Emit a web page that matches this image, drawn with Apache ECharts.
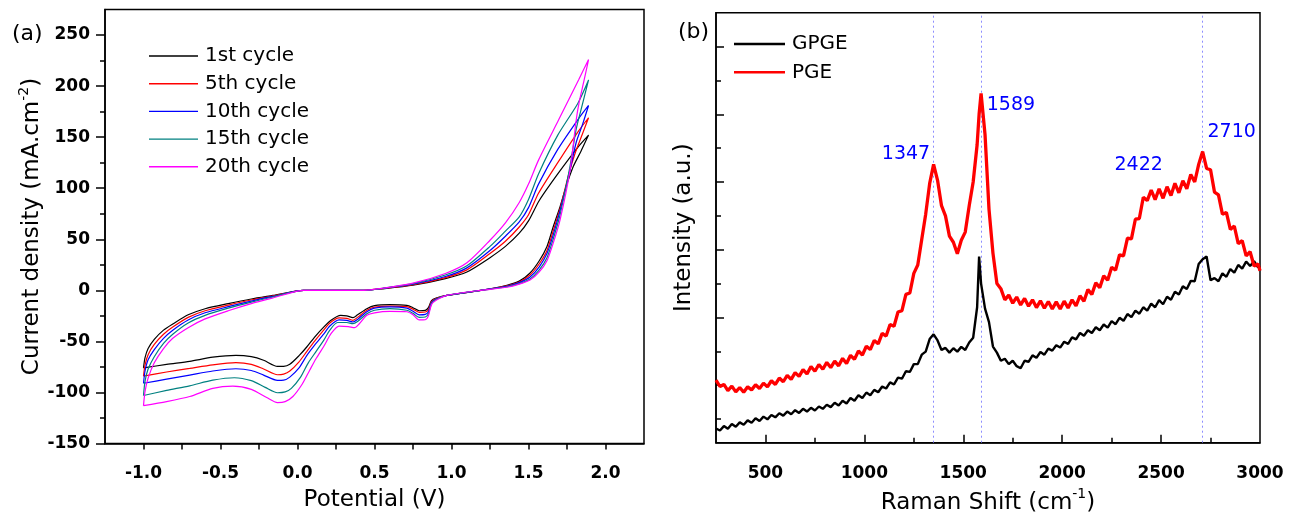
<!DOCTYPE html>
<html><head><meta charset="utf-8">
<script src="https://cdn.jsdelivr.net/npm/echarts@6/dist/echarts.min.js"></script>
<style>html,body{margin:0;padding:0;background:#fff}#c{width:1302px;height:521px}</style>
</head><body><div id="c"></div>
<script>
// ---------- Panel (a): cyclic voltammograms [potential V, current density mA/cm2] ----------
const cycleNames = ['1st cycle','5th cycle','10th cycle','15th cycle','20th cycle'];
const cycle1 = [[-1.0,-76],[-0.99,-66],[-0.97,-57],[-0.93,-48],[-0.87,-39],[-0.81,-33],[-0.71,-24],[-0.6,-18],[-0.45,-13],[-0.3,-8.5],[-0.16,-5],[0.04,0],[0.43,0],
 [0.55,1.5],[0.75,5],[0.96,11.5],[1.1,18],[1.25,32],[1.35,43],[1.44,56],[1.5,68],[1.57,88],[1.69,114],[1.82,140],[1.89,152],
 [1.84,136],[1.79,121],[1.745,102],[1.705,82],[1.66,62],[1.62,43],[1.57,29],[1.51,17],[1.44,9],[1.36,5],[1.19,0],[0.97,-5],[0.9,-7.5],[0.87,-10],[0.85,-17],[0.83,-19.6],[0.79,-20],[0.75,-17],[0.71,-14.7],[0.6,-14],[0.5,-15],[0.45,-18],[0.39,-24],[0.36,-26.8],[0.32,-25],[0.28,-24.5],[0.22,-29],[0.17,-36],[0.11,-46],[0.06,-55.5],[0.01,-64],[-0.05,-72.5],[-0.09,-74.5],[-0.13,-74.5],[-0.22,-68.5],[-0.3,-65],[-0.4,-63.7],[-0.55,-65.5],[-0.7,-69.5],[-0.85,-72.5],[-1.0,-76]];
const cycle5 = [[-1.0,-84],[-0.99,-73],[-0.97,-63],[-0.93,-53],[-0.87,-43],[-0.81,-36],[-0.71,-26.5],[-0.6,-20],[-0.45,-14.5],[-0.3,-9.5],[-0.16,-5.5],[0.04,0],[0.43,0],
 [0.55,1.7],[0.75,5.5],[0.96,12.5],[1.1,20],[1.25,36],[1.35,48],[1.44,62],[1.5,74],[1.565,95],[1.69,125],[1.82,155],[1.89,169],
 [1.85,153],[1.8,133],[1.76,113],[1.705,80],[1.66,58],[1.62,39],[1.57,26],[1.51,15],[1.44,8],[1.36,4.5],[1.19,0],[0.97,-5],[0.9,-8],[0.87,-11],[0.85,-19],[0.83,-21.2],[0.79,-21.5],[0.75,-18.5],[0.71,-16],[0.6,-15.4],[0.5,-16.5],[0.45,-19.5],[0.39,-26.5],[0.36,-29.4],[0.32,-27.5],[0.27,-27],[0.21,-32],[0.17,-39],[0.11,-50],[0.06,-60],[0.01,-70],[-0.05,-79],[-0.09,-82],[-0.13,-82.7],[-0.22,-77],[-0.3,-72.5],[-0.4,-70.9],[-0.55,-73],[-0.7,-76.5],[-0.85,-80],[-1.0,-84]];
const cycle10 = [[-1.0,-91],[-0.99,-79],[-0.97,-68],[-0.93,-58],[-0.87,-47],[-0.81,-39],[-0.71,-29],[-0.6,-22],[-0.45,-16],[-0.3,-10.5],[-0.16,-6],[0.04,0],[0.43,0],
 [0.55,1.8],[0.75,6],[0.96,13.5],[1.1,22],[1.25,39],[1.35,53],[1.44,67],[1.5,81],[1.565,104],[1.69,138],[1.82,167],[1.89,181],
 [1.85,162],[1.81,145],[1.77,118],[1.705,78],[1.66,54],[1.62,36],[1.57,23],[1.51,13],[1.44,7.5],[1.36,4],[1.19,0],[0.97,-5],[0.9,-8.5],[0.87,-12],[0.85,-21],[0.83,-23.5],[0.79,-24],[0.75,-20.5],[0.71,-17.5],[0.6,-16.3],[0.5,-17.5],[0.45,-21],[0.39,-28.5],[0.36,-31],[0.32,-29.5],[0.27,-29],[0.21,-35],[0.17,-43],[0.11,-54],[0.06,-64],[0.01,-76],[-0.05,-85],[-0.09,-88],[-0.13,-88.2],[-0.22,-83],[-0.3,-78.5],[-0.4,-76.8],[-0.55,-79],[-0.7,-83],[-0.85,-87],[-1.0,-91]];
const cycle15 = [[-1.0,-103],[-0.99,-89],[-0.97,-77],[-0.93,-65],[-0.87,-52],[-0.81,-43],[-0.71,-32],[-0.6,-24.5],[-0.45,-17.5],[-0.3,-11.5],[-0.16,-6.5],[0.04,0],[0.43,0],
 [0.55,1.9],[0.75,6.5],[0.96,15],[1.1,24],[1.25,43],[1.35,58],[1.44,72],[1.5,89],[1.565,114],[1.69,152],[1.82,183],[1.89,206],
 [1.85,182],[1.81,158],[1.77,122],[1.705,74],[1.66,50],[1.62,32],[1.57,20],[1.51,11],[1.44,6.5],[1.36,3.5],[1.19,0],[0.97,-5],[0.9,-9],[0.87,-13],[0.85,-23],[0.83,-26.1],[0.79,-26.5],[0.75,-22.5],[0.71,-19.5],[0.6,-18],[0.5,-19.5],[0.45,-23],[0.39,-30.5],[0.36,-32.7],[0.32,-31.5],[0.26,-31.5],[0.21,-39],[0.17,-49],[0.12,-60],[0.07,-71],[0.02,-85],[-0.04,-96],[-0.08,-99.5],[-0.13,-100.3],[-0.21,-95],[-0.3,-88.5],[-0.41,-85.6],[-0.55,-88],[-0.7,-93.5],[-0.85,-98],[-1.0,-103]];
const cycle20 = [[-1.0,-113],[-0.99,-99],[-0.97,-86],[-0.93,-71],[-0.87,-57],[-0.81,-47],[-0.71,-36.6],[-0.6,-28],[-0.45,-20],[-0.3,-13],[-0.16,-7.5],[0.04,0],[0.43,0],
 [0.55,2],[0.75,7],[0.96,16.5],[1.1,27],[1.25,49],[1.35,66],[1.44,86],[1.5,104],[1.565,127.5],[1.695,166.7],[1.825,206],[1.89,226],
 [1.86,205],[1.83,185],[1.81,167],[1.77,118],[1.705,69],[1.66,46],[1.62,29],[1.57,18],[1.51,10],[1.44,6],[1.36,3],[1.19,0],[0.97,-5],[0.9,-9.8],[0.87,-14],[0.85,-25],[0.83,-28.8],[0.79,-29],[0.75,-24],[0.71,-21],[0.6,-20.6],[0.5,-22],[0.45,-24.5],[0.4,-33],[0.37,-36.6],[0.33,-35.5],[0.27,-35],[0.22,-42],[0.17,-55],[0.12,-67],[0.08,-78],[0.03,-92],[-0.03,-104],[-0.08,-109],[-0.13,-110],[-0.2,-105],[-0.3,-97],[-0.42,-93.8],[-0.55,-96],[-0.7,-104],[-0.85,-109],[-1.0,-113]];
const cycleData = [cycle1, cycle5, cycle10, cycle15, cycle20];
const cycleColors = ['#000000','#ff0000','#0000ff','#008080','#ff00ff'];
const potentialLabels = [-1.0,-0.5,0.0,0.5,1.0,1.5,2.0];
const potentialTicks = [-1.0,-0.75,-0.5,-0.25,0,0.25,0.5,0.75,1.0,1.25,1.5,1.75,2.0];
const currentLabels = [-150,-100,-50,0,50,100,150,200,250];
const currentMinorTicks = [-125,-75,-25,25,75,125,175,225];

// ---------- Panel (b): Raman spectra ----------
const ramanShift = [250,270,290,310,330,350,370,390,410,430,450,470,490,510,530,550,570,590,610,630,650,670,690,710,730,750,770,790,810,830,850,870,890,910,930,950,970,990,1010,1030,1050,1070,1090,1110,1130,1150,1170,1190,1210,1230,1250,1270,1290,1310,1330,1350,1370,1390,1410,1430,1450,1470,1490,1510,1530,1550,1570,1580,1590,1610,1630,1650,1670,1690,1710,1730,1750,1770,1790,1810,1830,1850,1870,1890,1910,1930,1950,1970,1990,2010,2030,2050,2070,2090,2110,2130,2150,2170,2190,2210,2230,2250,2270,2290,2310,2330,2350,2370,2390,2410,2430,2450,2470,2490,2510,2530,2550,2570,2590,2610,2630,2650,2670,2690,2710,2730,2750,2770,2790,2810,2830,2850,2870,2890,2910,2930,2950,2970,2990,3000];
const pgeIntensity = [2.15,1.96,2.02,1.84,1.97,1.80,1.93,1.79,1.95,1.86,2.01,1.90,2.06,1.95,2.13,2.02,2.21,2.10,2.29,2.17,2.37,2.26,2.46,2.33,2.55,2.41,2.61,2.47,2.67,2.52,2.71,2.57,2.79,2.64,2.88,2.76,3.01,2.89,3.15,3.05,3.32,3.22,3.53,3.45,3.79,3.74,4.16,4.20,4.68,4.72,5.30,5.55,6.30,7.05,7.95,8.52,8.05,7.30,7.00,6.40,6.22,5.88,6.28,6.52,7.30,8.00,9.10,10.0,10.62,9.40,7.20,5.90,5.00,4.85,4.52,4.66,4.42,4.60,4.37,4.56,4.33,4.52,4.29,4.49,4.27,4.47,4.25,4.46,4.25,4.48,4.28,4.52,4.34,4.64,4.48,4.82,4.68,5.02,4.88,5.23,5.10,5.48,5.40,5.85,5.82,6.34,6.32,6.90,6.92,7.55,7.45,7.76,7.48,7.80,7.52,7.86,7.60,7.96,7.68,8.04,7.80,8.22,8.00,8.52,8.90,8.40,8.36,7.70,7.62,7.05,7.10,6.60,6.70,6.18,6.27,5.82,5.94,5.52,5.58,5.38];
const gpgeIntensity = [0.72,0.66,0.79,0.71,0.85,0.77,0.90,0.83,0.96,0.89,1.02,0.94,1.07,0.99,1.12,1.05,1.17,1.10,1.22,1.14,1.26,1.18,1.30,1.22,1.33,1.25,1.37,1.30,1.42,1.35,1.48,1.40,1.54,1.46,1.62,1.54,1.70,1.62,1.78,1.70,1.86,1.79,1.96,1.90,2.08,2.02,2.22,2.19,2.41,2.39,2.62,2.62,2.90,2.99,3.36,3.50,3.32,3.04,3.10,2.96,3.09,2.99,3.13,3.04,3.26,3.40,4.30,5.80,5.00,4.26,3.86,3.14,2.96,2.72,2.78,2.62,2.72,2.56,2.50,2.72,2.69,2.88,2.81,2.98,2.90,3.08,3.02,3.18,3.11,3.28,3.22,3.41,3.35,3.54,3.46,3.62,3.54,3.71,3.62,3.79,3.70,3.89,3.80,3.99,3.90,4.10,4.01,4.20,4.11,4.30,4.20,4.41,4.30,4.51,4.39,4.61,4.52,4.76,4.68,4.92,4.84,5.08,5.07,5.58,5.72,5.80,5.10,5.16,5.07,5.30,5.20,5.43,5.32,5.55,5.44,5.65,5.52,5.66,5.48,5.52];
const peakLines = [1347, 1589, 2710];
const peakNames = ['1347','1589','2422','2710'];
const peakShift = [1347, 1589, 2422, 2710];
const peakIntensity = [8.52, 10.62, 7.55, 8.90];
const ramanLabels = [500,1000,1500,2000,2500,3000];
const ramanMajorTicks = [500,1000,1500,2000,2500];
const ramanMinorTicks = [750,1250,1750,2250,2750];
const intensityMajorTicks = [2,4,6,8,10,12];
const intensityMinorTicks = [1,3,5,7,9,11];

// ---------- build ----------
const FONT = 'DejaVu Sans';
const peakLabelOffsets = [[-27,-10],[30,12],[-7,-32],[29,-19]];
const pair = (xs, ys) => xs.map((x, i) => [x, ys[i]]);
const axisLine = {show:true, onZero:false, lineStyle:{color:'#000', width:1.5}};
const hiddenLine = {show:false, onZero:false};
const tickLabel = {fontFamily:FONT, fontWeight:'bold', fontSize:17, color:'#000'};
const nameStyle = {fontFamily:FONT, fontSize:23, color:'#000',
  rich:{sup:{fontFamily:FONT, fontSize:14, color:'#000', padding:[0,0,16,0]}}};

const series = cycleData.map((d, i) => ({
  type:'line', name:cycleNames[i], xAxisIndex:0, yAxisIndex:0, data:d,
  symbol:'none', smooth:0.25, lineStyle:{color:cycleColors[i], width:1.2}, itemStyle:{color:cycleColors[i]}
}));
series.push({
  type:'line', name:'GPGE', xAxisIndex:1, yAxisIndex:2, data:pair(ramanShift, gpgeIntensity),
  symbol:'none', lineStyle:{color:'#000', width:2.4}, itemStyle:{color:'#000'},
  markLine:{silent:true, symbol:['none','none'], label:{show:false}, z:1,
    lineStyle:{color:'#8080ff', type:[2,3], width:1, opacity:0.9}, data: peakLines.map(v => ({xAxis:v}))}
});
series.push({
  type:'line', name:'PGE', xAxisIndex:1, yAxisIndex:2, data:pair(ramanShift, pgeIntensity),
  symbol:'none', lineStyle:{color:'#ff0000', width:3.3}, itemStyle:{color:'#ff0000'},
  markPoint:{silent:true, symbol:'circle', symbolSize:0,
    data: peakNames.map((n, i) => ({name:n, coord:[peakShift[i], peakIntensity[i]],
      label:{show:true, position:'inside', offset:peakLabelOffsets[i], formatter:n,
        fontFamily:FONT, fontSize:19, color:'#0000ff'}}))}
});

const option = {
  animation:false, backgroundColor:'#fff',
  grid:[
    {left:105, top:9.5, width:539, height:434, show:true, borderColor:'#000', borderWidth:1.5},
    {left:716, top:12.7, width:544, height:430, show:true, borderColor:'#000', borderWidth:1.5}
  ],
  legend:[
    {data:cycleNames, orient:'vertical', left:144, top:41, icon:'rect', itemWidth:49, itemHeight:1.4, itemGap:7.7,
      textStyle:{fontFamily:FONT, fontSize:20, color:'#000', lineHeight:20, padding:[0,0,0,2]}},
    {data:['GPGE','PGE'], orient:'vertical', left:729, top:29, icon:'rect', itemWidth:51, itemHeight:2.5, itemGap:8.3,
      textStyle:{fontFamily:FONT, fontSize:20, color:'#000', lineHeight:20, padding:[0,0,0,2]}}
  ],
  xAxis:[
    {gridIndex:0, type:'value', position:'bottom', min:-1.25, max:2.25,
      name:'Potential (V)', nameLocation:'middle', nameGap:45, nameTextStyle:nameStyle,
      axisLine:axisLine, splitLine:{show:false},
      axisTick:{show:true, inside:false, length:6, customValues:potentialTicks, lineStyle:{color:'#000', width:1.5}},
      axisLabel:Object.assign({margin:22, customValues:potentialLabels, formatter:v => v.toFixed(1)}, tickLabel)},
    {gridIndex:1, type:'value', position:'bottom', min:250, max:3000,
      name:'Raman Shift (cm{sup|-1})', nameLocation:'middle', nameGap:45, nameTextStyle:nameStyle,
      axisLine:axisLine, splitLine:{show:false},
      axisTick:{show:true, inside:true, length:8, customValues:ramanMajorTicks, lineStyle:{color:'#000', width:1.5}},
      axisLabel:Object.assign({margin:22, customValues:ramanLabels, formatter:v => String(v)}, tickLabel)},
    {gridIndex:1, type:'value', position:'bottom', min:250, max:3000,
      axisLine:hiddenLine, splitLine:{show:false}, axisLabel:{show:false},
      axisTick:{show:true, inside:true, length:5, customValues:ramanMinorTicks, lineStyle:{color:'#000', width:1.5}}}
  ],
  yAxis:[
    {gridIndex:0, type:'value', position:'left', min:-150, max:275,
      name:'Current density (mA.cm{sup|-2})', nameLocation:'middle', nameGap:58, nameTextStyle:nameStyle,
      axisLine:axisLine, splitLine:{show:false},
      axisTick:{show:true, inside:false, length:9, customValues:currentLabels, lineStyle:{color:'#000', width:1.5}},
      axisLabel:Object.assign({margin:15, customValues:currentLabels, formatter:v => String(v)}, tickLabel)},
    {gridIndex:0, type:'value', position:'left', min:-150, max:275,
      axisLine:hiddenLine, splitLine:{show:false}, axisLabel:{show:false},
      axisTick:{show:true, inside:false, length:5, customValues:currentMinorTicks, lineStyle:{color:'#000', width:1.5}}},
    {gridIndex:1, type:'value', position:'left', min:0.3, max:13,
      name:'Intensity (a.u.)', nameLocation:'middle', nameGap:20, nameTextStyle:nameStyle,
      axisLine:axisLine, splitLine:{show:false}, axisLabel:{show:false},
      axisTick:{show:true, inside:true, length:8, customValues:intensityMajorTicks, lineStyle:{color:'#000', width:1.5}}},
    {gridIndex:1, type:'value', position:'left', min:0.3, max:13,
      axisLine:hiddenLine, splitLine:{show:false}, axisLabel:{show:false},
      axisTick:{show:true, inside:true, length:5, customValues:intensityMinorTicks, lineStyle:{color:'#000', width:1.5}}}
  ],
  graphic:[
    {type:'text', left:12, top:23, style:{text:'(a)', font:'22px "DejaVu Sans"', fill:'#000'}},
    {type:'text', left:678, top:21, style:{text:'(b)', font:'22px "DejaVu Sans"', fill:'#000'}}
  ],
  series:series
};
const chart = echarts.init(document.getElementById('c'), null, {renderer:'canvas'});
chart.setOption(option);
</script></body></html>
